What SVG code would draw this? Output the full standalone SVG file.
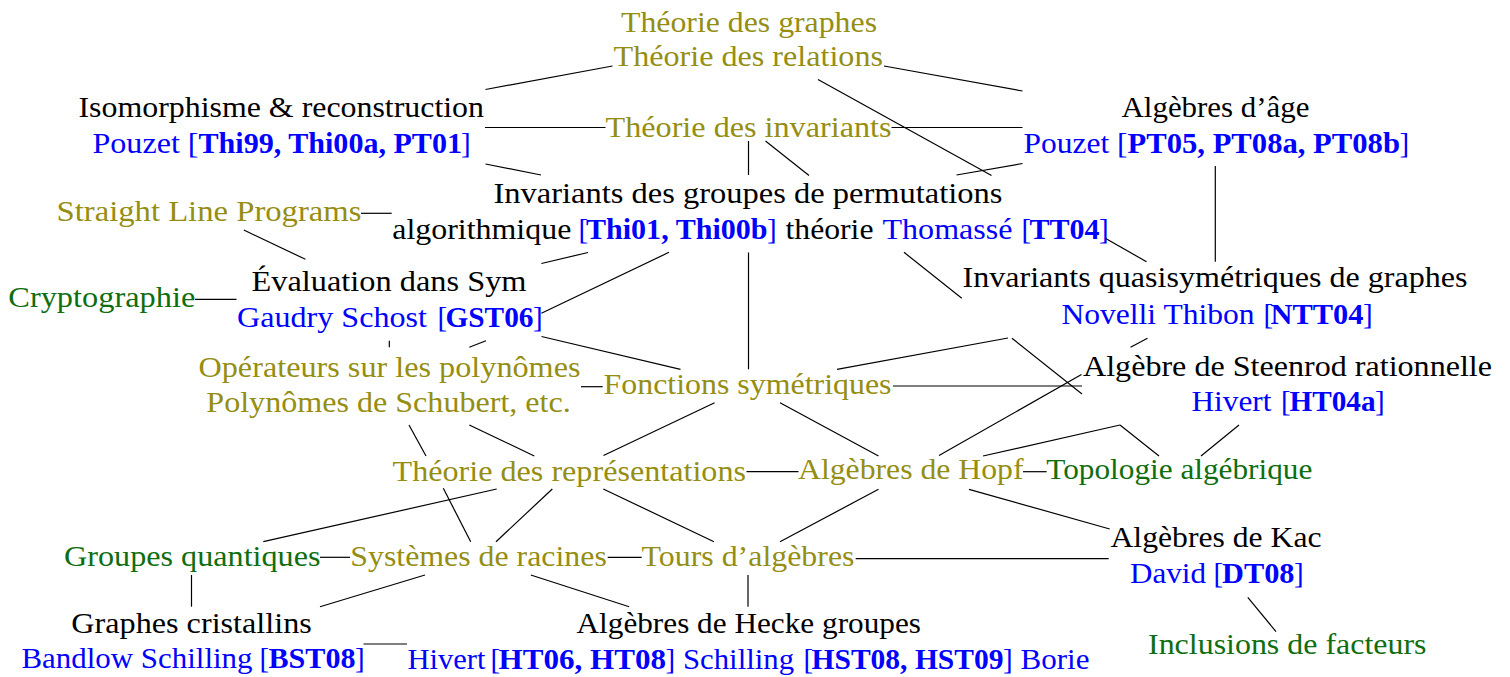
<svg xmlns="http://www.w3.org/2000/svg" width="1510" height="677" viewBox="0 0 1510 677">
<style>
text{font-family:"Liberation Serif","Times New Roman",serif;font-size:29px}
.k{fill:#000}
.o{fill:#958e12}
.g{fill:#0f6e0f}
.b{fill:#0000ff}
.bb{fill:#0000ff;font-weight:bold}
#edges line,#edges polyline{stroke:#000;stroke-width:1.2;fill:none}
</style>
<rect width="1510" height="677" fill="#fff"/>
<g id="edges">
<line x1="485.5" y1="89.5" x2="612.5" y2="66"/>
<line x1="884" y1="66" x2="1022.5" y2="91"/>
<line x1="818" y1="79.5" x2="991.5" y2="175.5"/>
<line x1="485" y1="127.5" x2="605.5" y2="127.5"/>
<line x1="891.5" y1="127.5" x2="1022.5" y2="127.5"/>
<line x1="485.5" y1="164" x2="541" y2="175"/>
<line x1="748.5" y1="141" x2="748.5" y2="175"/>
<line x1="765.5" y1="141" x2="809" y2="175.5"/>
<line x1="956.5" y1="175" x2="1022.5" y2="163.5"/>
<line x1="361" y1="213.3" x2="391.7" y2="213.3"/>
<line x1="243.8" y1="230" x2="305.4" y2="259.3"/>
<line x1="541.4" y1="263.5" x2="588" y2="252.5"/>
<line x1="541.4" y1="313.3" x2="669" y2="252.3"/>
<line x1="748.5" y1="252.5" x2="748.5" y2="369.3"/>
<line x1="904" y1="252.3" x2="961.8" y2="298.3"/>
<line x1="1105.3" y1="238.3" x2="1146.5" y2="261.7"/>
<line x1="1215.3" y1="166" x2="1215.3" y2="261.7"/>
<line x1="195" y1="299.3" x2="236.5" y2="299.3"/>
<line x1="541.5" y1="336.5" x2="680.5" y2="369.3"/>
<line x1="389.3" y1="340.7" x2="389.3" y2="347.3"/>
<line x1="469.3" y1="347.3" x2="486" y2="340.7"/>
<line x1="581" y1="386.7" x2="602.7" y2="386.7"/>
<line x1="837" y1="369.3" x2="1008" y2="338"/>
<line x1="1012" y1="338.3" x2="1082" y2="394"/>
<line x1="893" y1="386" x2="1082" y2="386"/>
<line x1="1130.5" y1="347.3" x2="1147.5" y2="338.3"/>
<line x1="409" y1="425" x2="426" y2="456"/>
<line x1="443.3" y1="488.3" x2="470.7" y2="541.7"/>
<line x1="469.3" y1="425" x2="534.3" y2="456"/>
<line x1="603.5" y1="455.5" x2="714.6" y2="402.7"/>
<line x1="780" y1="402.7" x2="878.5" y2="456"/>
<line x1="939" y1="455.5" x2="1081.5" y2="374.5"/>
<line x1="746.5" y1="471.7" x2="798.5" y2="471.7"/>
<line x1="1023" y1="471.7" x2="1046.7" y2="471.7"/>
<line x1="983" y1="456" x2="1120" y2="425"/>
<line x1="1120" y1="425" x2="1159" y2="456"/>
<line x1="1239" y1="425" x2="1201" y2="456"/>
<line x1="496.7" y1="489" x2="263.3" y2="541.7"/>
<line x1="552.3" y1="489" x2="496" y2="541.7"/>
<line x1="603.3" y1="489" x2="714" y2="541.7"/>
<line x1="878.5" y1="489.3" x2="780" y2="541.7"/>
<line x1="969" y1="489.3" x2="1109.7" y2="529"/>
<line x1="320" y1="557.3" x2="350" y2="557.3"/>
<line x1="607.7" y1="557.3" x2="641.7" y2="557.3"/>
<line x1="855.7" y1="558.7" x2="1108.7" y2="558.7"/>
<line x1="191.5" y1="575" x2="191.5" y2="606.7"/>
<line x1="425" y1="575" x2="320" y2="606.7"/>
<line x1="530.8" y1="575" x2="629.2" y2="606.7"/>
<line x1="748" y1="575" x2="748" y2="606.7"/>
<line x1="363.5" y1="644" x2="407" y2="644"/>
<line x1="1247.8" y1="597.3" x2="1276" y2="631.7"/>
</g>
<g id="n-graphes">
<text class="o" x="621" y="31.5" textLength="256" lengthAdjust="spacingAndGlyphs">Théorie des graphes</text>
<text class="o" x="613.5" y="65.7" textLength="269.5" lengthAdjust="spacingAndGlyphs">Théorie des relations</text>
</g>
<g id="n-iso">
<text class="k" x="78.5" y="116.7" textLength="405.5" lengthAdjust="spacingAndGlyphs">Isomorphisme &amp; reconstruction</text>
<text class="b" x="92.5" y="152.7" textLength="106" lengthAdjust="spacingAndGlyphs">Pouzet [</text>
<text class="bb" x="198.5" y="152.7" textLength="263.5" lengthAdjust="spacingAndGlyphs">Thi99, Thi00a, PT01</text>
<text class="b" x="461" y="152.7">]</text>
</g>
<g id="n-age">
<text class="k" x="1121.5" y="116.7" textLength="188" lengthAdjust="spacingAndGlyphs">Algèbres d’âge</text>
<text class="b" x="1023.5" y="152.7" textLength="104" lengthAdjust="spacingAndGlyphs">Pouzet [</text>
<text class="bb" x="1127.5" y="152.7" textLength="272.5" lengthAdjust="spacingAndGlyphs">PT05, PT08a, PT08b</text>
<text class="b" x="1399.5" y="152.7">]</text>
</g>
<g id="n-invariants">
<text class="o" x="605.5" y="137.3" textLength="286" lengthAdjust="spacingAndGlyphs">Théorie des invariants</text>
</g>
<g id="n-perm">
<text class="k" x="493.5" y="202.5" textLength="509" lengthAdjust="spacingAndGlyphs">Invariants des groupes de permutations</text>
<text class="k" x="392.3" y="238.7" textLength="179" lengthAdjust="spacingAndGlyphs">algorithmique</text>
<text class="b" x="578.5" y="238.7">[</text>
<text class="bb" x="586" y="238.7" textLength="181.5" lengthAdjust="spacingAndGlyphs">Thi01, Thi00b</text>
<text class="b" x="767" y="238.7">]</text>
<text class="k" x="785.5" y="238.7" textLength="88" lengthAdjust="spacingAndGlyphs">théorie</text>
<text class="b" x="882.5" y="238.7" textLength="130" lengthAdjust="spacingAndGlyphs">Thomassé</text>
<text class="b" x="1021.5" y="238.7">[</text>
<text class="bb" x="1029.5" y="238.7" textLength="70" lengthAdjust="spacingAndGlyphs">TT04</text>
<text class="b" x="1099" y="238.7">]</text>
</g>
<g id="n-slp">
<text class="o" x="56.5" y="220.7" textLength="305" lengthAdjust="spacingAndGlyphs">Straight Line Programs</text>
</g>
<g id="n-eval">
<text class="k" x="251.5" y="290.7" textLength="275" lengthAdjust="spacingAndGlyphs">Évaluation dans Sym</text>
<text class="b" x="237" y="326.7" textLength="190" lengthAdjust="spacingAndGlyphs">Gaudry Schost</text>
<text class="b" x="437.5" y="326.7">[</text>
<text class="bb" x="445.5" y="326.7" textLength="88" lengthAdjust="spacingAndGlyphs">GST06</text>
<text class="b" x="533" y="326.7">]</text>
</g>
<g id="n-crypto">
<text class="g" x="8.3" y="307" textLength="187" lengthAdjust="spacingAndGlyphs">Cryptographie</text>
</g>
<g id="n-qsym">
<text class="k" x="962.5" y="287.3" textLength="505" lengthAdjust="spacingAndGlyphs">Invariants quasisymétriques de graphes</text>
<text class="b" x="1061.5" y="324" textLength="193" lengthAdjust="spacingAndGlyphs">Novelli Thibon</text>
<text class="b" x="1263.5" y="324">[</text>
<text class="bb" x="1270.5" y="324" textLength="93" lengthAdjust="spacingAndGlyphs">NTT04</text>
<text class="b" x="1363" y="324">]</text>
</g>
<g id="n-oper">
<text class="o" x="198.5" y="376.7" textLength="382" lengthAdjust="spacingAndGlyphs">Opérateurs sur les polynômes</text>
<text class="o" x="206.3" y="411.7" textLength="364.5" lengthAdjust="spacingAndGlyphs">Polynômes de Schubert, etc.</text>
</g>
<g id="n-fonctions">
<text class="o" x="603.5" y="394" textLength="288" lengthAdjust="spacingAndGlyphs">Fonctions symétriques</text>
</g>
<g id="n-steenrod">
<text class="k" x="1083" y="376" textLength="409" lengthAdjust="spacingAndGlyphs">Algèbre de Steenrod rationnelle</text>
<text class="b" x="1191.5" y="410.7" textLength="80" lengthAdjust="spacingAndGlyphs">Hivert</text>
<text class="b" x="1281" y="410.7">[</text>
<text class="bb" x="1289.5" y="410.7" textLength="86" lengthAdjust="spacingAndGlyphs">HT04a</text>
<text class="b" x="1375" y="410.7">]</text>
</g>
<g id="n-rep">
<text class="o" x="392.5" y="480.5" textLength="353.5" lengthAdjust="spacingAndGlyphs">Théorie des représentations</text>
</g>
<g id="n-hopf">
<text class="o" x="798" y="479.3" textLength="225.5" lengthAdjust="spacingAndGlyphs">Algèbres de Hopf</text>
</g>
<g id="n-topo">
<text class="g" x="1046.3" y="479.3" textLength="266" lengthAdjust="spacingAndGlyphs">Topologie algébrique</text>
</g>
<g id="n-quant">
<text class="g" x="64" y="565.5" textLength="256.5" lengthAdjust="spacingAndGlyphs">Groupes quantiques</text>
</g>
<g id="n-racines">
<text class="o" x="350.3" y="566" textLength="256.5" lengthAdjust="spacingAndGlyphs">Systèmes de racines</text>
</g>
<g id="n-tours">
<text class="o" x="641.5" y="565.5" textLength="213" lengthAdjust="spacingAndGlyphs">Tours d’algèbres</text>
</g>
<g id="n-kac">
<text class="k" x="1110.5" y="547.3" textLength="211" lengthAdjust="spacingAndGlyphs">Algèbres de Kac</text>
<text class="b" x="1130" y="582.7" textLength="76" lengthAdjust="spacingAndGlyphs">David</text>
<text class="b" x="1213.5" y="582.7">[</text>
<text class="bb" x="1222" y="582.7" textLength="72.5" lengthAdjust="spacingAndGlyphs">DT08</text>
<text class="b" x="1294" y="582.7">]</text>
</g>
<g id="n-cristallins">
<text class="k" x="71.3" y="633.3" textLength="240.5" lengthAdjust="spacingAndGlyphs">Graphes cristallins</text>
<text class="b" x="21.5" y="668.3" textLength="231" lengthAdjust="spacingAndGlyphs">Bandlow Schilling</text>
<text class="b" x="259.5" y="668.3">[</text>
<text class="bb" x="268.5" y="668.3" textLength="87" lengthAdjust="spacingAndGlyphs">BST08</text>
<text class="b" x="355" y="668.3">]</text>
</g>
<g id="n-hecke">
<text class="k" x="576.5" y="633.3" textLength="344.5" lengthAdjust="spacingAndGlyphs">Algèbres de Hecke groupes</text>
<text class="b" x="407.5" y="669" textLength="78" lengthAdjust="spacingAndGlyphs">Hivert</text>
<text class="b" x="490.5" y="669">[</text>
<text class="bb" x="498.5" y="669" textLength="167.5" lengthAdjust="spacingAndGlyphs">HT06, HT08</text>
<text class="b" x="665.5" y="669">]</text>
<text class="b" x="683" y="669" textLength="111" lengthAdjust="spacingAndGlyphs">Schilling</text>
<text class="b" x="803.5" y="669">[</text>
<text class="bb" x="811.5" y="669" textLength="192" lengthAdjust="spacingAndGlyphs">HST08, HST09</text>
<text class="b" x="1003" y="669">]</text>
<text class="b" x="1020.5" y="669" textLength="69" lengthAdjust="spacingAndGlyphs">Borie</text>
</g>
<g id="n-inclusions">
<text class="g" x="1148" y="654" textLength="278.5" lengthAdjust="spacingAndGlyphs">Inclusions de facteurs</text>
</g>
</svg>
